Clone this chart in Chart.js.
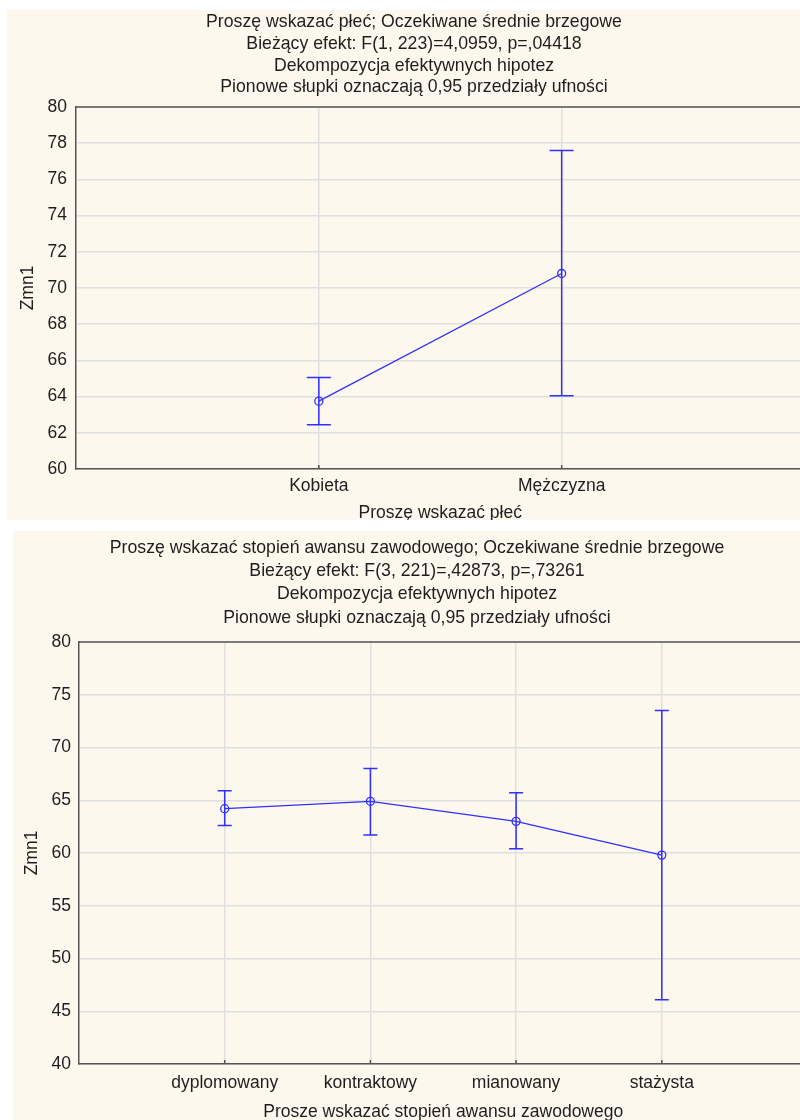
<!DOCTYPE html>
<html><head><meta charset="utf-8">
<script src="https://cdn.jsdelivr.net/npm/chart.js@4.4.0/dist/chart.umd.min.js"></script>
<style>
html,body{margin:0;padding:0;background:#fff;overflow:hidden;width:800px;height:1120px;}
.panel{position:absolute;background:#fdf8ee;overflow:hidden;}
#p1{left:7px;top:10px;width:811px;height:510px;}
#p2{left:13px;top:531px;width:803px;height:589px;}
canvas{display:block;}
</style></head><body>
<div class="panel" id="p1"><canvas id="c1" width="811" height="510"></canvas></div>
<div class="panel" id="p2"><canvas id="c2" width="803" height="589"></canvas></div>
<script>
// ---- Chart 1 data ----
const title1 = ['Proszę wskazać płeć; Oczekiwane średnie brzegowe','Bieżący efekt: F(1, 223)=4,0959, p=,04418','Dekompozycja efektywnych hipotez','Pionowe słupki oznaczają 0,95 przedziały ufności'];
const xTitle1 = 'Proszę wskazać płeć';
const categories1 = ['Kobieta','Mężczyzna'];
const means1 = [63.75, 70.8];
const lower1 = [62.45, 64.05];
const upper1 = [65.05, 77.6];
const yMin1 = 60, yMax1 = 80, yStep1 = 2;

// ---- Chart 2 data ----
const title2 = ['Proszę wskazać stopień awansu zawodowego; Oczekiwane średnie brzegowe','Bieżący efekt: F(3, 221)=,42873, p=,73261','Dekompozycja efektywnych hipotez','Pionowe słupki oznaczają 0,95 przedziały ufności'];
const xTitle2 = 'Prosze wskazać stopień awansu zawodowego';
const categories2 = ['dyplomowany','kontraktowy','mianowany','stażysta'];
const means2 = [64.2, 64.9, 63.0, 59.8];
const lower2 = [62.6, 61.7, 60.4, 46.1];
const upper2 = [65.9, 68.0, 65.7, 73.5];
const yMin2 = 40, yMax2 = 80, yStep2 = 5;

const yTitle = 'Zmn1';
const FONT = "'Liberation Sans', Arial, sans-serif";
const TEXT = '#1e1e1e';
const BLUE = '#2f2fff';
const GRID = '#e0e0e0';
const AXIS = '#555';

const frame = {id:'frame', afterDatasetsDraw(chart){
  const {ctx, chartArea:a} = chart;
  const xs = chart.scales.x;
  ctx.save(); ctx.strokeStyle = AXIS; ctx.lineWidth = 1.5;
  ctx.beginPath(); ctx.moveTo(a.left, a.top); ctx.lineTo(a.right + 20, a.top);
  xs.ticks.forEach(t=>{ const px = xs.getPixelForValue(t.value); ctx.moveTo(px, a.bottom); ctx.lineTo(px, a.bottom - 4); });
  ctx.stroke();
  ctx.restore();
}};

function build(id, o){
  const datasets = [];
  o.categories.forEach((c,i)=>{
    datasets.push({data:[{x:i+1,y:o.lower[i]},{x:i+1,y:o.upper[i]}], borderColor:BLUE, borderWidth:1.5,
      pointStyle:'line', pointRadius:o.cap, pointHoverRadius:o.cap, pointBorderColor:BLUE, pointBorderWidth:1.5, order:2});
  });
  datasets.push({data:o.means.map((m,i)=>({x:i+1,y:m})), borderColor:BLUE, borderWidth:1.3,
    pointStyle:'circle', pointRadius:4, pointHoverRadius:4, pointBorderColor:BLUE, pointBorderWidth:1.3,
    pointBackgroundColor:'rgba(0,0,0,0)', order:1});
  new Chart(document.getElementById(id), {
    type:'line',
    data:{datasets},
    options:{
      responsive:false, animation:false, devicePixelRatio:1,
      layout:{padding:{left:0,right:o.padRight,top:0,bottom:0}},
      plugins:{legend:{display:false}, tooltip:{enabled:false},
        title:{display:true, text:o.title, color:TEXT, font:{family:FONT,size:17.7,weight:'normal',lineHeight:o.titleLH+'px'},
          padding:{top:o.titlePadTop,bottom:o.titlePadBottom}}},
      scales:{
        x:{type:'linear', min:0, max:o.categories.length+1,
          afterBuildTicks:s=>{s.ticks=o.categories.map((c,i)=>({value:i+1}));},
          ticks:{callback:(v)=>o.categories[v-1]||'', color:TEXT, font:{family:FONT,size:17.5}, padding:o.xTickPad, autoSkip:false, maxRotation:0},
          grid:{color:GRID, lineWidth:1.5, drawTicks:false},
          border:{color:AXIS, width:1.5},
          title:{display:true, text:o.xTitle, color:TEXT, font:{family:FONT,size:17.5,lineHeight:'14px'}, padding:{top:0,bottom:o.xTitlePadBottom}},
          afterFit:s=>{s.height=o.xH; s.paddingLeft=0; s.paddingRight=0;}},
        y:{min:o.yMin, max:o.yMax,
          ticks:{stepSize:o.yStep, color:TEXT, font:{family:FONT,size:17.5}, padding:o.yTickPad},
          grid:{color:GRID, lineWidth:1.5, drawTicks:false},
          border:{color:AXIS, width:1.5},
          title:{display:true, text:yTitle, color:TEXT, font:{family:FONT,size:17.5}, padding:{top:o.yTitlePadTop,bottom:0}},
          afterFit:s=>{s.width=o.yW;}}
      }
    },
    plugins:[frame]
  });
}

build('c1', {title:title1, xTitle:xTitle1, categories:categories1, means:means1, lower:lower1, upper:upper1,
  yMin:yMin1, yMax:yMax1, yStep:yStep1, yW:69, xH:51, padRight:-3, titleLH:21.7, titlePadTop:1.6, titlePadBottom:8.6,
  xTickPad:6.6, xTitlePadBottom:0, yTickPad:9, yTitlePadTop:11, cap:12});
build('c2', {title:title2, xTitle:xTitle2, categories:categories2, means:means2, lower:lower2, upper:upper2,
  yMin:yMin2, yMax:yMax2, yStep:yStep2, yW:66, xH:56, padRight:-5, titleLH:23.3, titlePadTop:5.3, titlePadBottom:12.5,
  xTickPad:8.6, xTitlePadBottom:1, yTickPad:8, yTitlePadTop:9, cap:7});
</script>
</body></html>
